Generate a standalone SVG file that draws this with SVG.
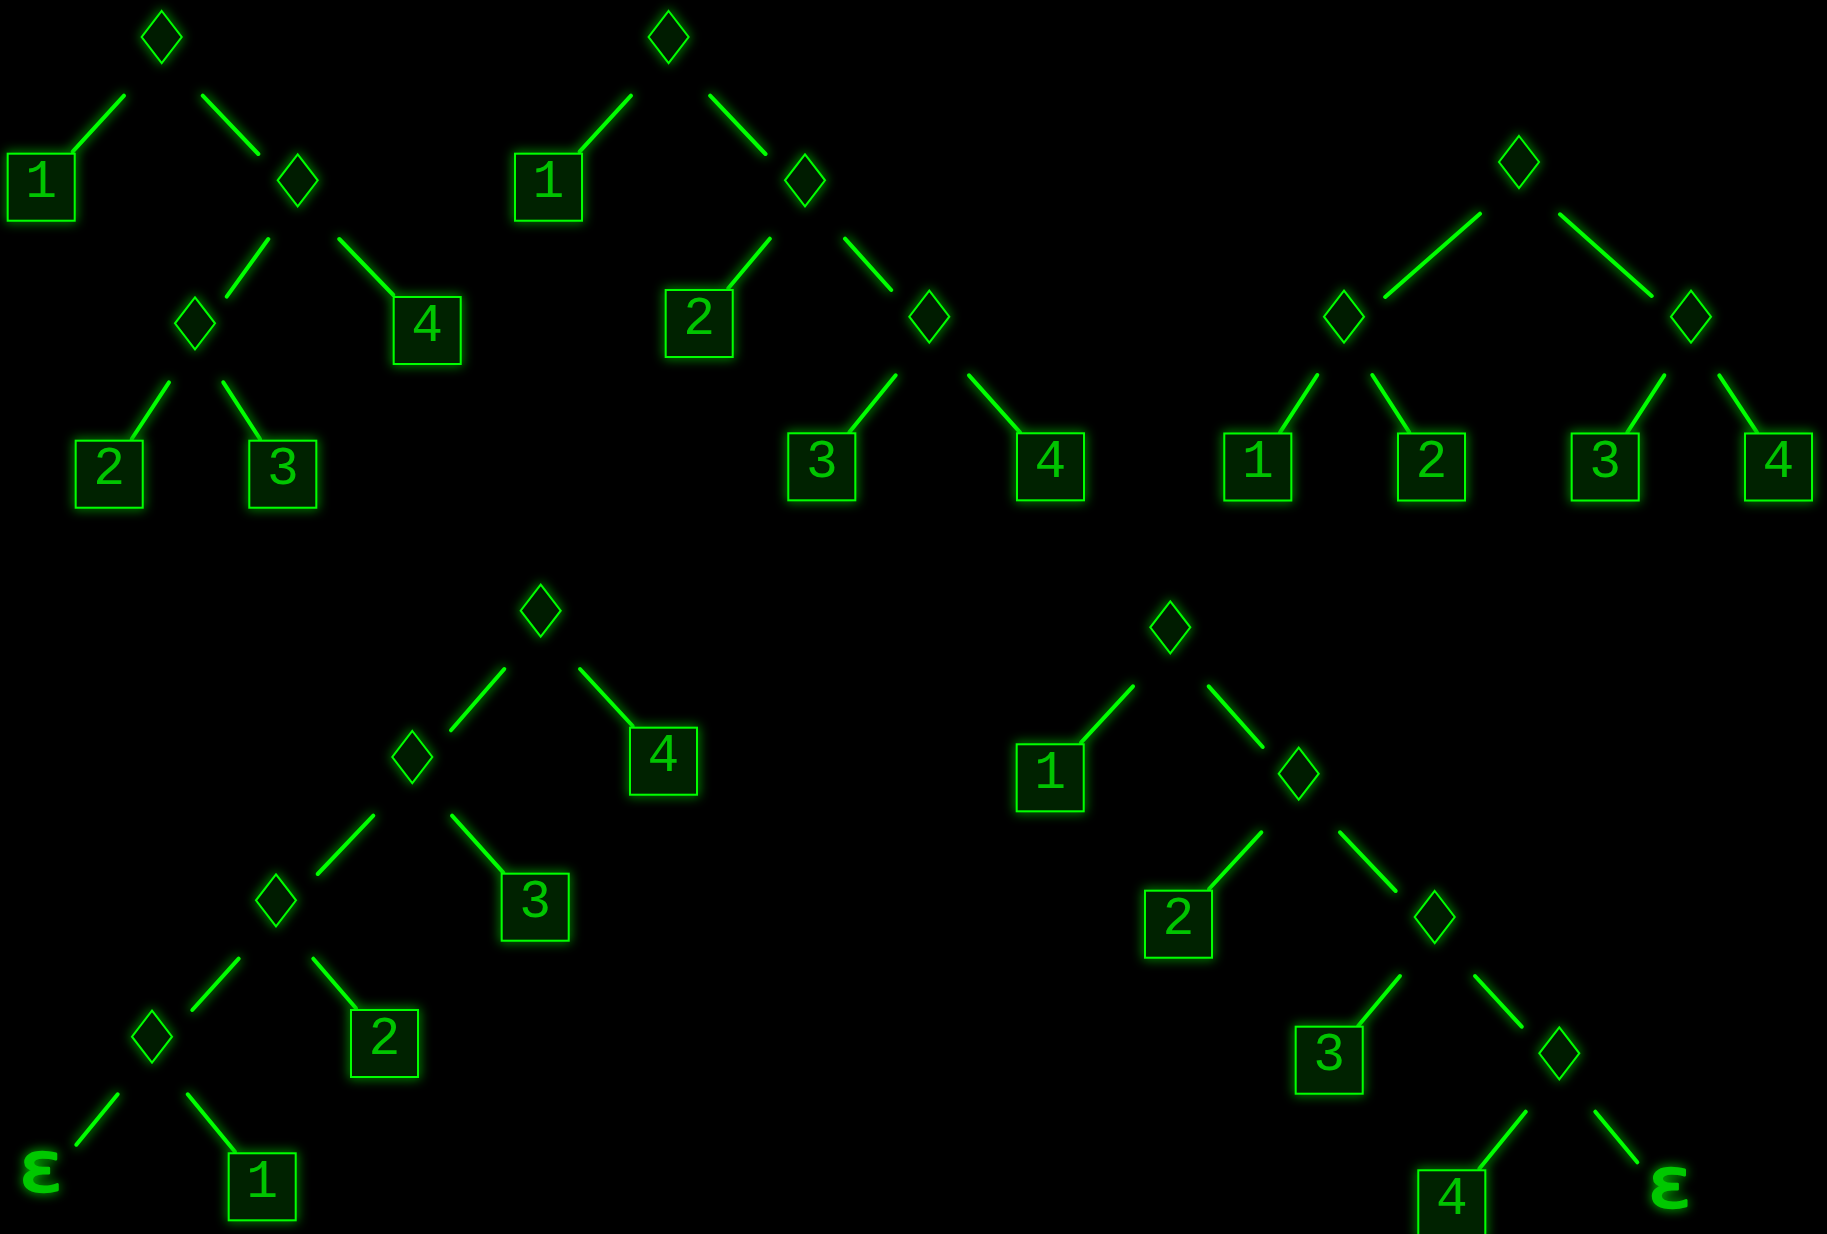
<svg xmlns="http://www.w3.org/2000/svg" xmlns:xlink="http://www.w3.org/1999/xlink" width="1827" height="1234" viewBox="0 0 1827 1234">
<defs>
<filter id="glow" x="-50%" y="-50%" width="200%" height="200%">
<feGaussianBlur in="SourceGraphic" stdDeviation="6" result="b"/>
<feComponentTransfer in="b" result="b2"><feFuncA type="linear" slope="1"/></feComponentTransfer>
<feMerge><feMergeNode in="b2"/><feMergeNode in="SourceGraphic"/></feMerge>
</filter>
<path id="dia" d="M0,-26 L20,0 L0,26 L-20,0 Z"/>
</defs>
<style>
.e{stroke:#00ff00;stroke-width:4;stroke-linecap:round;fill:none}
.d{fill:#001c00;stroke:#00ff00;stroke-width:2}
.b{fill:#002200;stroke:#00ff00;stroke-width:2}
.t{fill:#00c400;font-family:"Liberation Mono",monospace;font-size:53px;text-anchor:middle}
.eps{fill:#00c800;stroke:#00c800;stroke-width:2.5;stroke-linejoin:round;font-family:"DejaVu Sans",sans-serif;font-size:70px;text-anchor:middle}
.n{filter:url(#glow)}
</style>
<rect width="1827" height="1234" fill="#000"/>
<g id="connectors" filter="url(#glow)">
<line class="e" x1="124" y1="95.7" x2="72.7" y2="151.7"/>
<line class="e" x1="202.7" y1="95.7" x2="258.3" y2="154"/>
<line class="e" x1="268.3" y1="239" x2="226.7" y2="296.7"/>
<line class="e" x1="339.3" y1="239" x2="393.3" y2="295"/>
<line class="e" x1="169" y1="382.3" x2="131.7" y2="439"/>
<line class="e" x1="223.3" y1="382.3" x2="260" y2="439"/>
<line class="e" x1="631" y1="95.7" x2="579.6" y2="151.7"/>
<line class="e" x1="710.1" y1="95.7" x2="765.5" y2="154"/>
<line class="e" x1="769.8" y1="238.7" x2="728.3" y2="288.3"/>
<line class="e" x1="845" y1="238.7" x2="891.2" y2="290"/>
<line class="e" x1="895.7" y1="375.3" x2="849.3" y2="432.3"/>
<line class="e" x1="969" y1="375.3" x2="1020" y2="432.3"/>
<line class="e" x1="1480" y1="213.7" x2="1385.2" y2="297"/>
<line class="e" x1="1560" y1="214.3" x2="1651.7" y2="296"/>
<line class="e" x1="1317.3" y1="375" x2="1280" y2="432.3"/>
<line class="e" x1="1372.3" y1="375" x2="1409.3" y2="432.3"/>
<line class="e" x1="1664.3" y1="375.3" x2="1627.3" y2="432.3"/>
<line class="e" x1="1719.3" y1="375.3" x2="1757" y2="432.3"/>
<line class="e" x1="504.3" y1="669" x2="451" y2="730.3"/>
<line class="e" x1="580" y1="669" x2="632.7" y2="726"/>
<line class="e" x1="373.3" y1="815.7" x2="317.7" y2="874"/>
<line class="e" x1="452" y1="815.7" x2="503.3" y2="872.7"/>
<line class="e" x1="238.7" y1="958.7" x2="192.3" y2="1010"/>
<line class="e" x1="313.3" y1="958.7" x2="356" y2="1008.3"/>
<line class="e" x1="117.7" y1="1094.3" x2="76.3" y2="1144.7"/>
<line class="e" x1="187.7" y1="1094.3" x2="235" y2="1151.7"/>
<line class="e" x1="1133" y1="686.3" x2="1081" y2="742.7"/>
<line class="e" x1="1208.7" y1="686.3" x2="1262.7" y2="747"/>
<line class="e" x1="1261.3" y1="832.3" x2="1209" y2="889"/>
<line class="e" x1="1340" y1="832.3" x2="1395.7" y2="891"/>
<line class="e" x1="1400" y1="976" x2="1358.3" y2="1025.7"/>
<line class="e" x1="1475" y1="976" x2="1521.7" y2="1026.7"/>
<line class="e" x1="1525.7" y1="1111.7" x2="1479.3" y2="1168.7"/>
<line class="e" x1="1595.3" y1="1111.7" x2="1637.3" y2="1162.3"/>
</g>
<!-- Tree 1 -->
<g id="t1-root" class="n"><use xlink:href="#dia" class="d" x="161.7" y="37"/></g>
<g id="t1-leaf1" class="n"><rect class="b" x="7.7" y="153.7" width="67" height="67"/><text class="t" x="41.2" y="197.2">1</text></g>
<g id="t1-d2" class="n"><use xlink:href="#dia" class="d" x="297.7" y="180.3"/></g>
<g id="t1-d3" class="n"><use xlink:href="#dia" class="d" x="195" y="323.3"/></g>
<g id="t1-leaf4" class="n"><rect class="b" x="393.7" y="297" width="67" height="67"/><text class="t" x="427.2" y="340.5">4</text></g>
<g id="t1-leaf2" class="n"><rect class="b" x="75.7" y="440.7" width="67" height="67"/><text class="t" x="109.2" y="484.2">2</text></g>
<g id="t1-leaf3" class="n"><rect class="b" x="249.3" y="440.7" width="67" height="67"/><text class="t" x="282.8" y="484.2">3</text></g>
<!-- Tree 2 -->
<g id="t2-root" class="n"><use xlink:href="#dia" class="d" x="668.6" y="37"/></g>
<g id="t2-leaf1" class="n"><rect class="b" x="515" y="153.7" width="67" height="67"/><text class="t" x="548.5" y="197.2">1</text></g>
<g id="t2-d2" class="n"><use xlink:href="#dia" class="d" x="805" y="180.3"/></g>
<g id="t2-leaf2" class="n"><rect class="b" x="665.7" y="290" width="67" height="67"/><text class="t" x="699.2" y="333.5">2</text></g>
<g id="t2-d3" class="n"><use xlink:href="#dia" class="d" x="929.3" y="316.7"/></g>
<g id="t2-leaf3" class="n"><rect class="b" x="788.3" y="433.3" width="67" height="67"/><text class="t" x="821.8" y="476.8">3</text></g>
<g id="t2-leaf4" class="n"><rect class="b" x="1017" y="433.3" width="67" height="67"/><text class="t" x="1050.5" y="476.8">4</text></g>
<!-- Tree 3 -->
<g id="t3-root" class="n"><use xlink:href="#dia" class="d" x="1519" y="162"/></g>
<g id="t3-dL" class="n"><use xlink:href="#dia" class="d" x="1344" y="316.7"/></g>
<g id="t3-dR" class="n"><use xlink:href="#dia" class="d" x="1691" y="316.7"/></g>
<g id="t3-leaf1" class="n"><rect class="b" x="1224.3" y="433.5" width="67" height="67"/><text class="t" x="1257.8" y="477">1</text></g>
<g id="t3-leaf2" class="n"><rect class="b" x="1398" y="433.5" width="67" height="67"/><text class="t" x="1431.5" y="477">2</text></g>
<g id="t3-leaf3" class="n"><rect class="b" x="1571.7" y="433.5" width="67" height="67"/><text class="t" x="1605.2" y="477">3</text></g>
<g id="t3-leaf4" class="n"><rect class="b" x="1745" y="433.5" width="67" height="67"/><text class="t" x="1778.5" y="477">4</text></g>
<!-- Tree 4 -->
<g id="t4-root" class="n"><use xlink:href="#dia" class="d" x="540.7" y="610.7"/></g>
<g id="t4-d1" class="n"><use xlink:href="#dia" class="d" x="412.3" y="757"/></g>
<g id="t4-leaf4" class="n"><rect class="b" x="630" y="727.7" width="67" height="67"/><text class="t" x="663.5" y="771.2">4</text></g>
<g id="t4-d2" class="n"><use xlink:href="#dia" class="d" x="276" y="900.3"/></g>
<g id="t4-leaf3" class="n"><rect class="b" x="501.7" y="873.7" width="67" height="67"/><text class="t" x="535.2" y="917.2">3</text></g>
<g id="t4-d3" class="n"><use xlink:href="#dia" class="d" x="152" y="1036.7"/></g>
<g id="t4-leaf2" class="n"><rect class="b" x="351" y="1010" width="67" height="67"/><text class="t" x="384.5" y="1053.5">2</text></g>
<g id="t4-eps" class="n"><text class="eps" transform="translate(41,1190.5) scale(1.15,1)" x="0" y="0">ε</text></g>
<g id="t4-leaf1" class="n"><rect class="b" x="228.7" y="1153.3" width="67" height="67"/><text class="t" x="262.2" y="1196.8">1</text></g>
<!-- Tree 5 -->
<g id="t5-root" class="n"><use xlink:href="#dia" class="d" x="1170.3" y="627.3"/></g>
<g id="t5-leaf1" class="n"><rect class="b" x="1016.7" y="744.3" width="67" height="67"/><text class="t" x="1050.2" y="787.8">1</text></g>
<g id="t5-d1" class="n"><use xlink:href="#dia" class="d" x="1298.7" y="773.7"/></g>
<g id="t5-leaf2" class="n"><rect class="b" x="1145" y="890.7" width="67" height="67"/><text class="t" x="1178.5" y="934.2">2</text></g>
<g id="t5-d2" class="n"><use xlink:href="#dia" class="d" x="1434.7" y="917"/></g>
<g id="t5-leaf3" class="n"><rect class="b" x="1295.7" y="1026.7" width="67" height="67"/><text class="t" x="1329.2" y="1070.2">3</text></g>
<g id="t5-d3" class="n"><use xlink:href="#dia" class="d" x="1559.3" y="1053.3"/></g>
<g id="t5-leaf4" class="n"><rect class="b" x="1418.3" y="1170.3" width="67" height="67"/><text class="t" x="1451.8" y="1213.8">4</text></g>
<g id="t5-eps" class="n"><text class="eps" transform="translate(1669.7,1207) scale(1.15,1)" x="0" y="0">ε</text></g>
</svg>
